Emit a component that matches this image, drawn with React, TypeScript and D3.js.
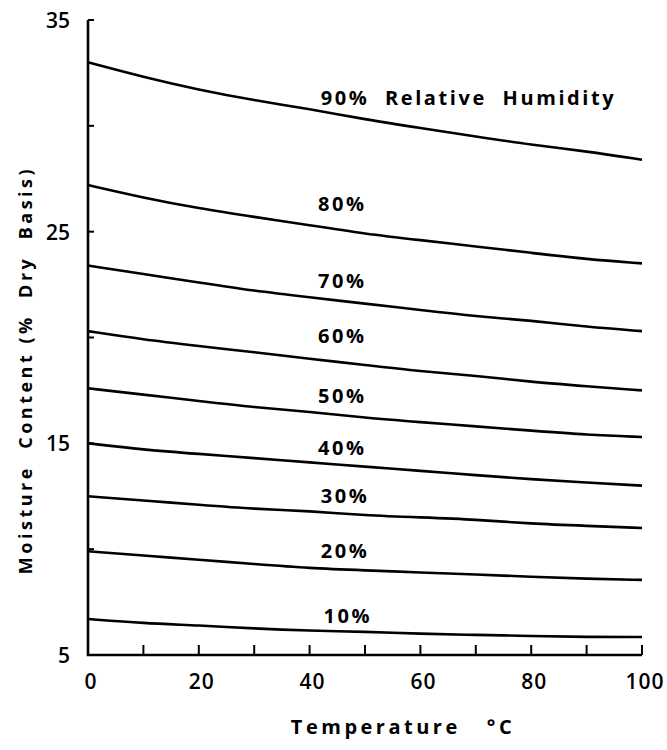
import React, { useRef, useEffect } from "react";
import * as d3 from "d3";

// temperatures (°C) where the curves were read
const temps = [0, 10, 20, 30, 40, 50, 60, 70, 80, 90, 100];

// moisture content (% dry basis) for each relative humidity
const rh90 = [33.0, 32.3, 31.7, 31.2, 30.8, 30.3, 29.9, 29.5, 29.1, 28.8, 28.4];
const rh80 = [27.2, 26.6, 26.1, 25.7, 25.3, 24.9, 24.6, 24.3, 24.0, 23.7, 23.5];
const rh70 = [23.4, 23.0, 22.6, 22.2, 21.9, 21.6, 21.3, 21.0, 20.8, 20.5, 20.3];
const rh60 = [20.3, 19.9, 19.6, 19.3, 19.0, 18.7, 18.4, 18.2, 17.9, 17.7, 17.5];
const rh50 = [17.6, 17.3, 17.0, 16.7, 16.5, 16.2, 16.0, 15.8, 15.6, 15.4, 15.3];
const rh40 = [15.0, 14.7, 14.5, 14.3, 14.1, 13.9, 13.7, 13.5, 13.3, 13.15, 13.0];
const rh30 = [12.5, 12.3, 12.1, 11.9, 11.8, 11.6, 11.5, 11.4, 11.2, 11.1, 11.0];
const rh20 = [9.9, 9.7, 9.5, 9.3, 9.1, 9.0, 8.9, 8.8, 8.7, 8.6, 8.55];
const rh10 = [6.7, 6.5, 6.4, 6.25, 6.15, 6.1, 6.0, 5.95, 5.9, 5.85, 5.85];

const series = [rh90, rh80, rh70, rh60, rh50, rh40, rh30, rh20, rh10];
const labels = ["90%  Relative  Humidity", "80%", "70%", "60%", "50%", "40%", "30%", "20%", "10%"];
// where each label sits, in data units (temperature, moisture of the text baseline)
const labelTemp = [42, 41.5, 41.5, 41.5, 41.5, 41.5, 42, 42, 42.5];
const labelMoisture = [31.0, 26.0, 22.35, 19.75, 16.9, 14.45, 12.2, 9.6, 6.5];

const yTicks = [5, 10, 15, 20, 25, 30, 35];
const yTickLabels = [5, 15, 25, 35];
const xTicks = [0, 10, 20, 30, 40, 50, 60, 70, 80, 90, 100];
const xTickLabels = [0, 20, 40, 60, 80, 100];

const App = () => {
  const svgRef = useRef<SVGSVGElement>(null);

  useEffect(() => {
    const width = 667;
    const height = 750;
    const font = "'Open Sans', 'DejaVu Sans', sans-serif";

    const svg = d3.select(svgRef.current).attr("width", width).attr("height", height);
    svg.selectAll("*").remove();

    const x = d3.scaleLinear().domain([0, 100]).range([88, 642]);
    const y = d3.scaleLinear().domain([5, 35]).range([655, 20]);

    // axes lines
    svg
      .append("path")
      .attr("d", `M${x(0)},${y(35)}V${y(5)}H${x(100)}`)
      .attr("fill", "none")
      .attr("stroke", "#000")
      .attr("stroke-width", 2.6);

    // inward ticks
    svg
      .append("g")
      .selectAll("line")
      .data(yTicks)
      .join("line")
      .attr("x1", x(0))
      .attr("x2", x(0) + 6)
      .attr("y1", (d) => y(d))
      .attr("y2", (d) => y(d))
      .attr("stroke", "#000")
      .attr("stroke-width", 2);

    svg
      .append("g")
      .selectAll("line")
      .data(xTicks)
      .join("line")
      .attr("x1", (d) => x(d))
      .attr("x2", (d) => x(d))
      .attr("y1", y(5))
      .attr("y2", y(5) - 10)
      .attr("stroke", "#000")
      .attr("stroke-width", 2);

    // tick labels
    svg
      .append("g")
      .selectAll("text")
      .data(yTickLabels)
      .join("text")
      .attr("x", x(0) - 18)
      .attr("y", (d) => y(d) + 8)
      .attr("text-anchor", "end")
      .attr("font-family", font)
      .attr("font-size", 21)
      .attr("font-weight", 600)
      .text((d) => d);

    svg
      .append("g")
      .selectAll("text")
      .data(xTickLabels)
      .join("text")
      .attr("x", (d) => x(d) + 3)
      .attr("y", 689)
      .attr("text-anchor", "middle")
      .attr("font-family", font)
      .attr("font-size", 21)
      .attr("font-weight", 600)
      .attr("letter-spacing", 1)
      .text((d) => d);

    // axis titles
    svg
      .append("text")
      .attr("x", 403)
      .attr("y", 734)
      .attr("text-anchor", "middle")
      .attr("font-family", font)
      .attr("font-size", 20)
      .attr("font-weight", 700)
      .attr("letter-spacing", 3.5)
      .attr("xml:space", "preserve")
      .text("Temperature   °C");

    svg
      .append("text")
      .attr("transform", "translate(32,370) rotate(-90)")
      .attr("text-anchor", "middle")
      .attr("font-family", font)
      .attr("font-size", 18)
      .attr("font-weight", 700)
      .attr("letter-spacing", 3.5)
      .attr("xml:space", "preserve")
      .text("Moisture  Content (%  Dry  Basis)");

    // curves
    const line = d3
      .line<number>()
      .x((_, i) => x(temps[i]))
      .y((d) => y(d))
      .curve(d3.curveBasis);

    svg
      .append("g")
      .selectAll("path")
      .data(series)
      .join("path")
      .attr("d", (d) => line(d))
      .attr("fill", "none")
      .attr("stroke", "#000")
      .attr("stroke-width", 2.6);

    // curve labels
    svg
      .append("g")
      .selectAll("text")
      .data(labels)
      .join("text")
      .attr("x", (_, i) => x(labelTemp[i]))
      .attr("y", (_, i) => y(labelMoisture[i]))
      .attr("font-family", font)
      .attr("font-size", 20)
      .attr("font-weight", 700)
      .attr("letter-spacing", 2.6)
      .attr("xml:space", "preserve")
      .text((d) => d);
  }, []);

  return <svg ref={svgRef} style={{ position: "absolute", left: 0, top: 0 }}></svg>;
};

export default App;
